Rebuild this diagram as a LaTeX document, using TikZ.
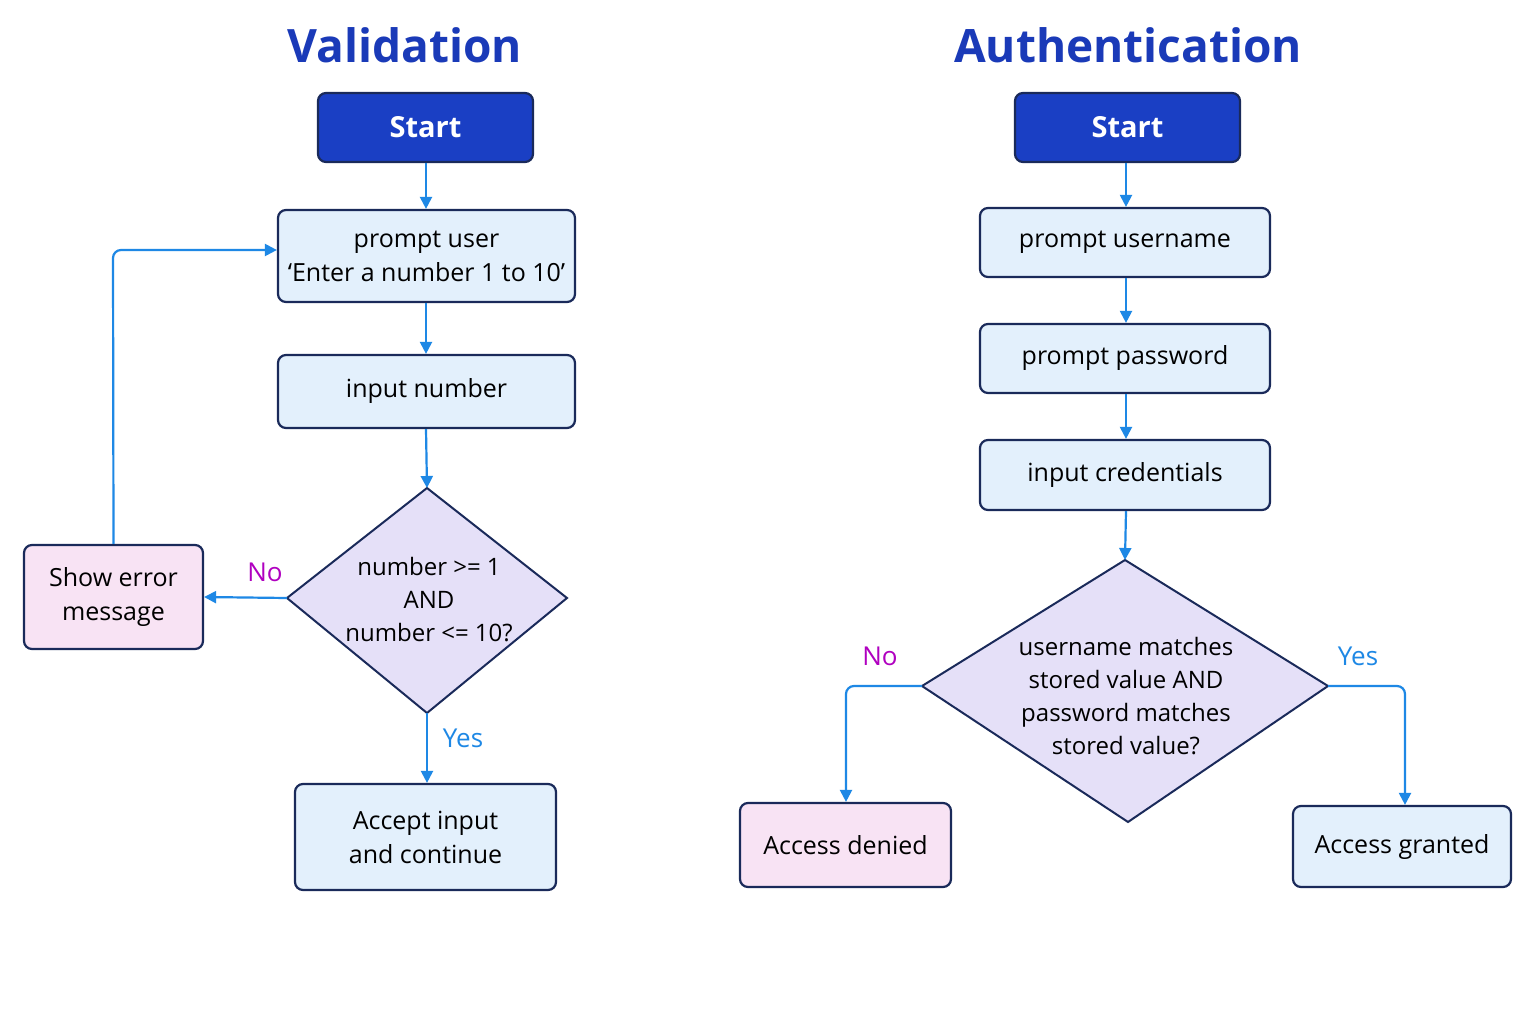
\documentclass[tikz,border=0pt]{standalone}
\usepackage{fontspec}
\setmainfont{Open Sans}
\usetikzlibrary{shapes.geometric,arrows.meta}
\definecolor{bfill}{HTML}{E3F0FC}
\definecolor{bdraw}{HTML}{1A2A5A}
\definecolor{arr}{HTML}{1E88E5}
\definecolor{dfill}{HTML}{E5E0F8}
\definecolor{pfill}{HTML}{F8E3F4}
\definecolor{startc}{HTML}{1A3FC4}
\definecolor{titlec}{HTML}{1A3AB8}
\definecolor{noc}{HTML}{B000C0}
\tikzset{
 x=1pt,y=-1pt,
 box/.style={draw=bdraw,line width=2.2pt,rounded corners=8pt,fill=bfill,align=center,font=\fontsize{25}{34}\selectfont,text=black,inner sep=0pt},
 sbox/.style={box,fill=startc,text=white,font=\fontsize{29}{34}\selectfont\bfseries},
 pbox/.style={box,fill=pfill},
 dia/.style={draw=bdraw,line width=2pt,fill=dfill,align=center,font=\fontsize{24}{33}\selectfont},
 con/.style={draw=arr,line width=2.2pt,-{Triangle[length=12pt,width=12pt]}},
 ttl/.style={font=\fontsize{46}{50}\selectfont\bfseries,text=titlec},
 lab/.style={font=\fontsize{26}{30}\selectfont}
}
\begin{document}
\begin{tikzpicture}
\useasboundingbox[fill=white] (0,0) rectangle (1536,1024);
% Validation
\node[ttl] (t1) at (405,45) {Validation};
\node[sbox,minimum width=215pt,minimum height=69pt] (s1) at (425.5,127.5) {Start};
\node[box,minimum width=297pt,minimum height=92pt] (p1) at (426.5,256) {prompt user\\‘Enter a number 1 to 10’};
\node[box,minimum width=297pt,minimum height=73pt] (i1) at (426.5,391.5) {input number};
\draw[dia] (287,598) coordinate (dl) -- (427,488) coordinate (dt) -- (567,598) -- (427,713) coordinate (db) -- cycle;
\node[font=\fontsize{24}{33}\selectfont,align=center] (d1) at (429,600) {number >= 1\\AND\\number <= 10?};
\node[pbox,minimum width=179pt,minimum height=104pt] (e1) at (113.5,597) {Show error\\message};
\node[box,minimum width=261pt,minimum height=106pt] (a1) at (425.5,837) {Accept input\\and continue};
\draw[con] (s1.south -| 426,0) -- (p1.north -| 426,0);
\draw[con] (p1.south -| 426,0) -- (i1.north -| 426,0);
\draw[con] (i1.south -| 426,0) -- (dt);
\draw[con] (dl) -- (e1.east);
\draw[con,rounded corners=8pt] (e1.north) -- (113,250) -- (p1.west |- 0,250);
\draw[con] (db) -- (a1.north -| 427,0);
\node[lab,text=noc] (no1) at (265,572) {No};
\node[lab,text=arr] (yes1) at (463,738) {Yes};
% Authentication
\node[ttl] (t2) at (1128,45) {Authentication};
\node[sbox,minimum width=225pt,minimum height=69pt] (s2) at (1127.5,127.5) {Start};
\node[box,minimum width=290pt,minimum height=69pt] (u2) at (1125,242.5) {prompt username};
\node[box,minimum width=290pt,minimum height=69pt] (w2) at (1125,358.5) {prompt password};
\node[box,minimum width=290pt,minimum height=70pt] (c2) at (1125,475) {input credentials};
\draw[dia] (922,686) coordinate (el) -- (1125,560) coordinate (et) -- (1328,686) coordinate (er) -- (1128,822) -- cycle;
\node[font=\fontsize{24}{33}\selectfont,align=center] (d2) at (1126,696) {username matches\\stored value AND\\password matches\\stored value?};
\node[pbox,minimum width=211pt,minimum height=84pt] (n2) at (845.5,845) {Access denied};
\node[box,minimum width=218pt,minimum height=81pt] (g2) at (1402,846.5) {Access granted};
\draw[con] (s2.south -| 1126,0) -- (u2.north -| 1126,0);
\draw[con] (u2.south -| 1126,0) -- (w2.north -| 1126,0);
\draw[con] (w2.south -| 1126,0) -- (c2.north -| 1126,0);
\draw[con] (c2.south -| 1126,0) -- (et);
\draw[con,rounded corners=8pt] (el) -- (846,686) -- (n2.north -| 846,0);
\draw[con,rounded corners=8pt] (er) -- (1405,686) -- (g2.north -| 1405,0);
\node[lab,text=noc] (no2) at (880,656) {No};
\node[lab,text=arr] (yes2) at (1358,656) {Yes};
\end{tikzpicture}
\end{document}
